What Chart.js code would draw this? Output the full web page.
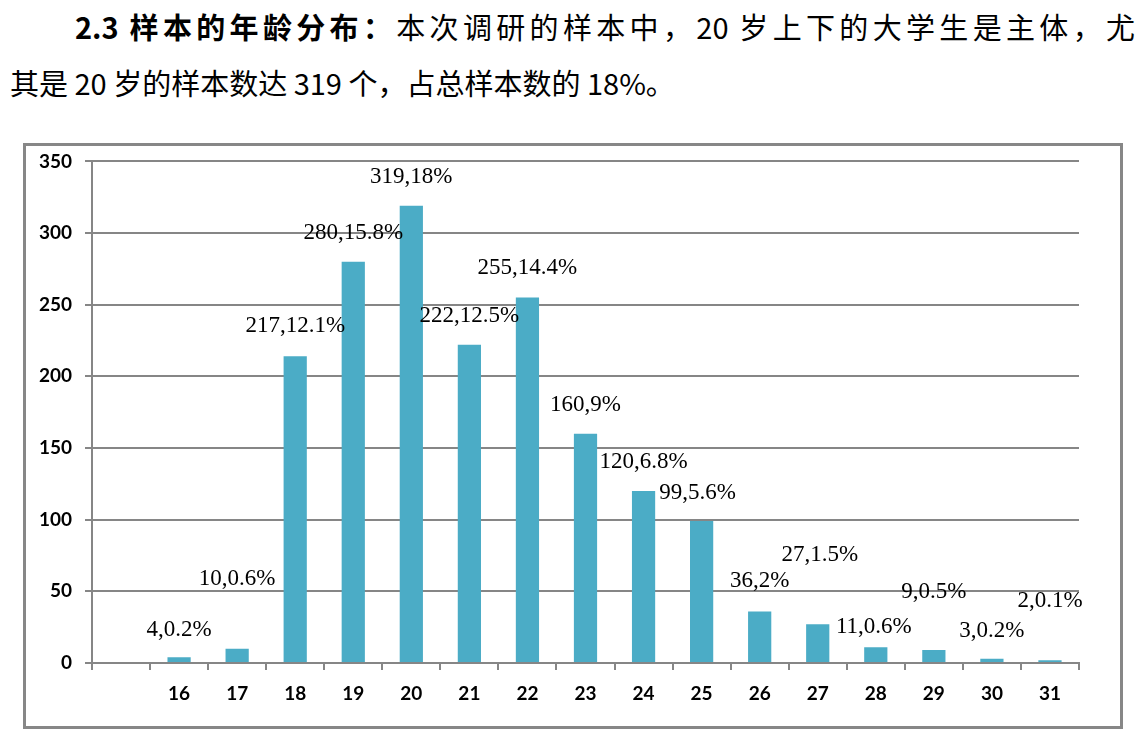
<!DOCTYPE html>
<html>
<head>
<meta charset="utf-8">
<script src="https://cdn.jsdelivr.net/npm/chart.js@4/dist/chart.umd.min.js"></script>
<style>
  html, body { margin: 0; padding: 0; background: #fff; }
  body { width: 1146px; height: 737px; position: relative; overflow: hidden; font-family: "Noto Sans CJK SC", sans-serif; color: #000; }
  .line { position: absolute; font-size: 29px; line-height: 40px; white-space: nowrap; }
  #l1 { left: 75px; top: 6px; width: 1060px; text-align: justify; text-align-last: justify; }
  #l2 { left: 10px; top: 62px; }
  #box { position: absolute; left: 23px; top: 143px; width: 1100px; height: 586px; box-sizing: border-box; border: 3px solid #878787; }
  #wrap { position: absolute; left: 0; top: -9px; width: 1094px; height: 589px; }
</style>
</head>
<body>
<div class="line" id="l1"><b>2.3 样本的年龄分布：</b>本次调研的样本中，20 岁上下的大学生是主体，尤</div>
<div class="line" id="l2">其是 20 岁的样本数达 319 个，占总样本数的 18%。</div>
<div id="box"><div id="wrap"><canvas id="chartEdad"></canvas></div></div>
<script>
// edades (primera categoria vacia como en el original)
const edades = ['', '16', '17', '18', '19', '20', '21', '22', '23', '24', '25', '26', '27', '28', '29', '30', '31'];
const muestras = [null, 4, 10, 214, 280, 319, 222, 255, 160, 120, 99, 36, 27, 11, 9, 3, 2];
const etiquetas = ['', '4,0.2%', '10,0.6%', '217,12.1%', '280,15.8%', '319,18%', '222,12.5%', '255,14.4%', '160,9%',
  '120,6.8%', '99,5.6%', '36,2%', '27,1.5%', '11,0.6%', '9,0.5%', '3,0.2%', '2,0.1%'];
const ticksY = [0, 50, 100, 150, 200, 250, 300, 350];

// desplazamiento manual de cada etiqueta respecto a la barra (px)
const desplazaX = [0, 0, 0, 0, 0, 0, 0, 0, 0, 0, -4, 0, 2, -2, 0, 0, 0];
const desplazaY = [0, -27, -70, -30, -29, -29, -29, -30, -29, -29, -28, -30, -69, -20, -58, -28, -59];

const gris = '#868686';

const etiquetasPlugin = {
    id: 'etiquetas',
    afterDatasetsDraw(chart) {
        const ctx = chart.ctx;
        const meta = chart.getDatasetMeta(0);
        ctx.save();
        ctx.font = '23px "Liberation Serif", "Times New Roman", serif';
        ctx.fillStyle = '#000';
        ctx.textAlign = 'center';
        ctx.textBaseline = 'middle';
        meta.data.forEach((bar, i) => {
            if (!etiquetas[i]) return;
            ctx.fillText(etiquetas[i], bar.x + desplazaX[i], bar.y + desplazaY[i]);
        });
        ctx.restore();
    }
};

const ctx1 = document.getElementById('chartEdad');
new Chart(ctx1, {
    type: 'bar',
    data: {
        labels: edades,
        datasets: [{
            label: '样本数',
            data: muestras,
            backgroundColor: '#4BACC6',
            borderWidth: 0,
            barPercentage: 0.4,
            categoryPercentage: 1
        }]
    },
    options: {
        responsive: true,
        maintainAspectRatio: false,
        animation: false,
        layout: { padding: { left: 0, top: 8, right: 41, bottom: 0 } },
        plugins: {
            legend: { display: false },
            tooltip: { enabled: false }
        },
        scales: {
            x: {
                grid: { drawOnChartArea: false, drawTicks: true, tickLength: 7, color: gris, lineWidth: 2, offset: true },
                border: { color: gris, width: 2 },
                ticks: { color: '#000', font: { family: 'Lato', weight: 'bold', size: 19 }, padding: 12, maxRotation: 0 },
                afterFit(scale) { scale.height = 63; }
            },
            y: {
                min: 0,
                max: 350,
                afterBuildTicks(scale) { scale.ticks = ticksY.map(v => ({ value: v })); },
                grid: { color: gris, lineWidth: 2, tickLength: 7 },
                border: { color: gris, width: 2 },
                ticks: { color: '#000', font: { family: 'Lato', weight: 'bold', size: 19 }, padding: 13 },
                afterFit(scale) { scale.width = 66; }
            }
        }
    },
    plugins: [etiquetasPlugin]
});
</script>
</body>
</html>
